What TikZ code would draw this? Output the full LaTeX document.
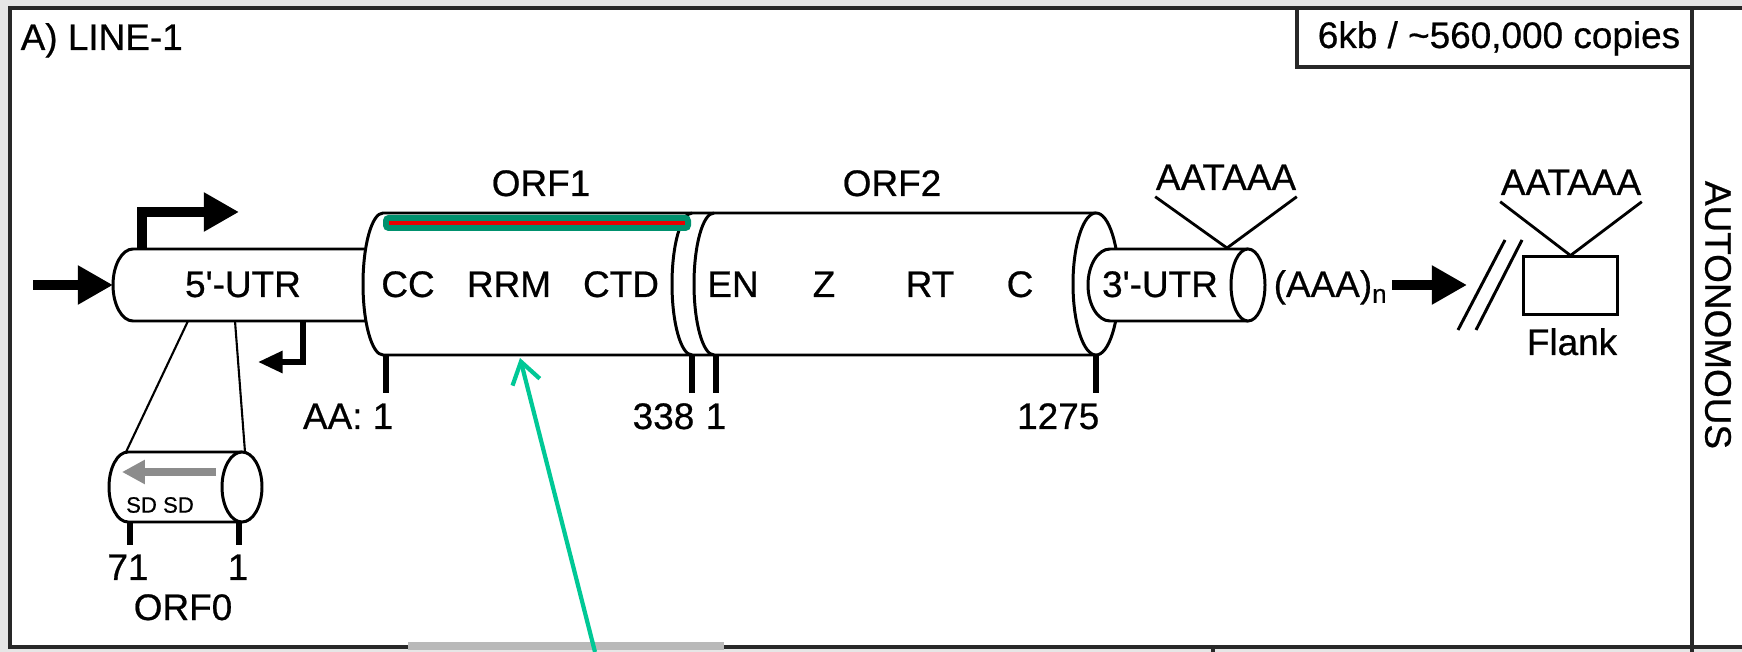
\documentclass[tikz,border=0pt]{standalone}
\usepackage{fontspec}
\setmainfont{Liberation Sans}[UprightFeatures={FakeBold=0.6}]
\usepackage{tikz}
\usetikzlibrary{arrows.meta,calc,positioning}
\definecolor{framegray}{RGB}{40,40,40}
\definecolor{paneltint}{RGB}{230,230,230}
\definecolor{orfgreen}{RGB}{0,145,110}
\definecolor{orfred}{RGB}{235,0,0}
\definecolor{pointgreen}{RGB}{0,200,150}
\definecolor{sdgray}{RGB}{140,140,140}

\begin{document}
\begin{tikzpicture}[x=0.01cm,y=-0.01cm,>=Latex,
  lbl/.style={font=\fontsize{10.5}{12}\selectfont,inner sep=0pt,anchor=base},
  outl/.style={line width=0.85pt,fill=white},
  aatick/.style={line width=1.5pt},
  fatarrow/.style={line width=2.6pt,-{Triangle[length=10pt,width=10.5pt]}}]
  \useasboundingbox (0,0) rectangle (1742,652);
  % Hintergrund, Rahmen, Rand des naechsten Feldes
  \fill[paneltint] (0,0) rectangle (1742,652);
  \fill[white] (10,8) rectangle (1742,647);
  \draw[framegray,line width=0.9pt] (1742,8) -- (10,8) -- (10,647) -- (1742,647);
  \draw[framegray,line width=0.9pt] (1692,8) -- (1692,652);
  \fill[gray!55] (408,642) rectangle (724,650);
  \draw[framegray,line width=0.9pt] (1213,647) -- (1213,652);
  % Kopf
  \node[lbl,anchor=base west] (title) at (20,50) {A) LINE-1};
  \draw[framegray,line width=0.9pt] (1297,8) -- (1297,67) -- (1692,67);
  \node[lbl] (copies) at (1499,48) {6kb / \textasciitilde560,000 copies};
  \node[lbl,rotate=-90,anchor=center] (autonomous) at (1718,315) {AUTONOMOUS};
  % 5'-UTR mit Promotorpfeilen
  \draw[outl] (367,249) -- (133,249) arc[start angle=270,end angle=90,x radius=20,y radius=36] -- (367,321);
  \node[lbl] (utrfive) at (243,297) {5\textquotesingle-UTR};
  \coordinate (inflow) at (33,285);
  \coordinate (utrfivew) at (113,285);
  \draw[fatarrow] (inflow) -- (utrfivew);
  \coordinate (sensefoot) at (142,250);
  \coordinate (sensetip) at (239,212);
  \draw[fatarrow] (sensefoot) |- (sensetip);
  \coordinate (asfoot) at (303,321);
  \coordinate (astip) at (258,362);
  \draw[line width=1.6pt,-{Triangle[length=7pt,width=6pt]}] (asfoot) |- (astip);
  % ORF0 Ausschnitt
  \draw[line width=0.6pt] (188,321) -- (126,452) (235,321) -- (245,452);
  \draw[outl] (242,452) -- (128,452) arc[start angle=270,end angle=90,x radius=19,y radius=35] -- (242,522);
  \draw[outl] (242,487) ellipse[x radius=20,y radius=35];
  \draw[sdgray,line width=2.4pt,-{Triangle[length=6.5pt,width=6.5pt]}] (216,472) -- (122,472);
  \node[font=\fontsize{6.3}{7}\selectfont,inner sep=0pt] (sdsd) at (160,505) {SD SD};
  \draw[aatick] (130,522) -- (130,545) (239,522) -- (239,545);
  \node[lbl] (orfzeroend) at (128,580) {71};
  \node[lbl] (orfzerostart) at (238,580) {1};
  \node[lbl] (orfzero) at (183,620) {ORF0};
  % ORF1 und ORF2
  \draw[outl] (1096,213) -- (383,213) arc[start angle=270,end angle=90,x radius=20,y radius=71] -- (1096,355);
  \draw[line width=0.85pt] (692,213) arc[start angle=270,end angle=90,x radius=20,y radius=71]
    (714,213) arc[start angle=270,end angle=90,x radius=20,y radius=71];
  \draw[outl] (1096,284) ellipse[x radius=23,y radius=71];
  \fill[orfgreen,rounded corners=1.5pt] (383,215) rectangle (691,231);
  \draw[orfred,line width=1.2pt] (389,223) -- (685,223);
  \node[lbl] (orfone) at (541,196) {ORF1};
  \node[lbl] (orftwo) at (892,196) {ORF2};
  \foreach \t/\x in {CC/408,RRM/509,CTD/621,EN/733,Z/824,RT/930,C/1020}
    \node[lbl] (dom\t) at (\x,297) {\t};
  \foreach \x in {386,692,716,1096} \draw[aatick] (\x,355) -- (\x,393);
  \node[lbl,anchor=base east] (aaone) at (394,429) {AA: 1};
  \node[lbl,anchor=base east] (aaorfone) at (695,429) {338};
  \node[lbl] (aaorftwo) at (716,429) {1};
  \node[lbl,anchor=base east] (aaend) at (1100,429) {1275};
  % 3'-UTR, PolyA
  \draw[outl] (1248,249) -- (1110,249) arc[start angle=270,end angle=90,x radius=22,y radius=36] -- (1248,321);
  \draw[outl] (1248,285) ellipse[x radius=17,y radius=36];
  \node[lbl] (utrthree) at (1160,297) {3\textquotesingle-UTR};
  \node[lbl] (signalone) at (1226,190) {AATAAA};
  \coordinate (signalonetip) at (1227,248);
  \draw[line width=0.8pt] ($(signalone.south west)+(0,6)$) -- (signalonetip) -- ($(signalone.south east)+(0,6)$);
  \node[lbl,anchor=base west] (polyA) at (1273,297) {(AAA)\textsubscript{n}};
  \coordinate (tailfoot) at (1392,285);
  \coordinate (tailtip) at (1467,285);
  \draw[fatarrow] (tailfoot) -- (tailtip);
  % Bruch und Flanke
  \draw[line width=0.85pt] (1458,330) -- (1505,240) (1476,330) -- (1522,240);
  \node[draw,line width=0.85pt,minimum width=0.93cm,minimum height=0.57cm,inner sep=0pt] (flankbox) at (1570.5,285.5) {};
  \node[lbl] (flank) at (1572,355) {Flank};
  \node[lbl] (signaltwo) at (1571,195) {AATAAA};
  \draw[line width=0.8pt] ($(signaltwo.south west)+(0,6)$) -- (flankbox.north) -- ($(signaltwo.south east)+(0,6)$);
  % Zeiger
  \coordinate (pointerfoot) at (595,652);
  \coordinate (pointertip) at (520,358);
  \draw[pointgreen,line width=1.2pt,-{Straight Barb[length=6pt,width=8pt]}] (pointerfoot) -- (pointertip);
\end{tikzpicture}
\end{document}
